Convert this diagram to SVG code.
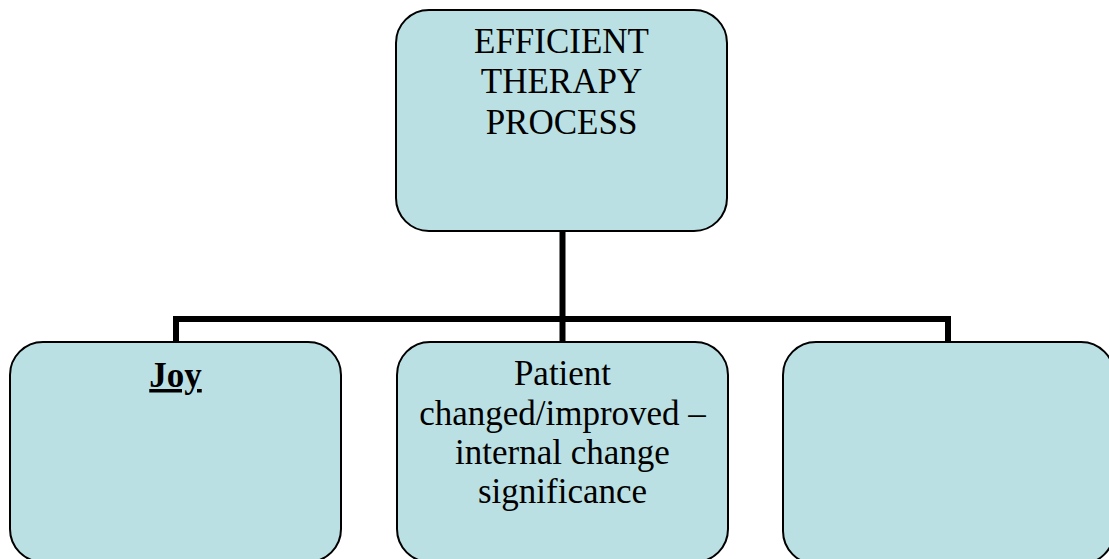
<svg xmlns="http://www.w3.org/2000/svg" width="1109" height="559" viewBox="0 0 1109 559">
<style>
.box{fill:#bbe0e3;stroke:#000;stroke-width:2}
.lbl{font-family:"Liberation Serif","Times New Roman",serif;font-size:35px;fill:#000;text-anchor:middle}
.conn{fill:none;stroke:#000;stroke-width:6}
</style>
<rect width="1109" height="559" fill="#fff"/>
<g id="connectors">
<path class="conn" d="M562.5 231 V342"/>
<path class="conn" d="M176 342 V319 H948 V342"/>
</g>
<g id="node-top">
<rect class="box" x="396" y="10" width="331" height="221" rx="33" ry="33"/>
<text class="lbl" x="561.5" y="53">EFFICIENT</text>
<text class="lbl" x="561.5" y="93">THERAPY</text>
<text class="lbl" x="561.5" y="134">PROCESS</text>
</g>
<g id="node-joy">
<rect class="box" x="10" y="342" width="331" height="220" rx="33" ry="33"/>
<text class="lbl" x="175.5" y="387" font-weight="bold" text-decoration="underline">Joy</text>
</g>
<g id="node-patient">
<rect class="box" x="397" y="342" width="331" height="220" rx="33" ry="33"/>
<text class="lbl" x="562.5" y="385">Patient</text>
<text class="lbl" x="562.5" y="425">changed/improved –</text>
<text class="lbl" x="562.5" y="464">internal change</text>
<text class="lbl" x="562.5" y="503">significance</text>
</g>
<g id="node-right">
<rect class="box" x="783" y="342" width="331" height="222" rx="33" ry="33"/>
</g>
</svg>
